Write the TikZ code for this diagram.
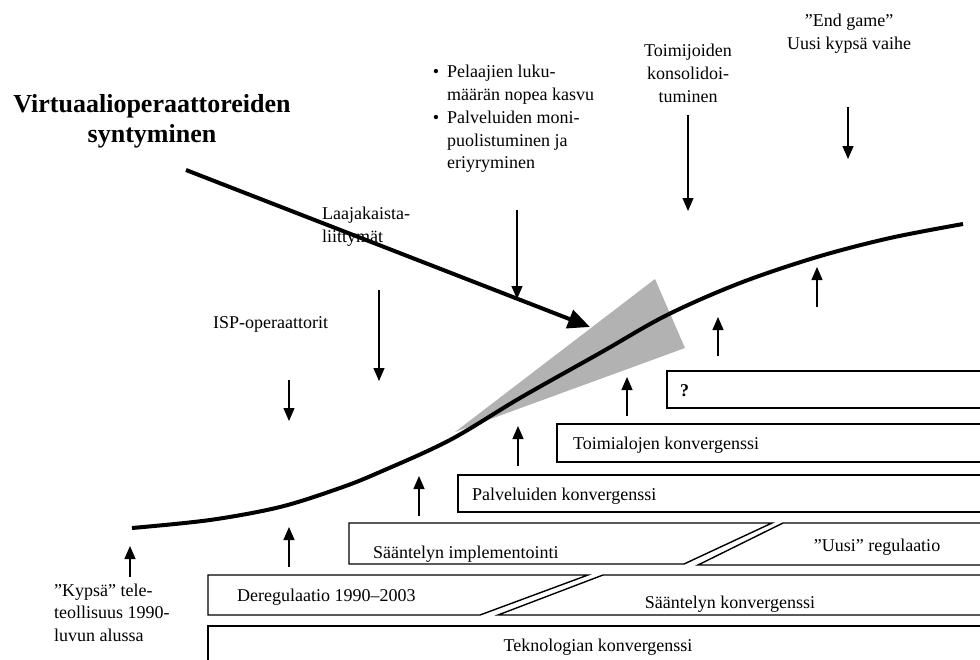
\documentclass[tikz,border=0pt]{standalone}
\usepackage{fontspec}
\setmainfont{Liberation Serif}
\usetikzlibrary{arrows.meta}
\begin{document}
\begin{tikzpicture}[x=1pt,y=-1pt,
  txt/.style={inner sep=0pt, font=\fontsize{18}{22.5}\selectfont},
  ttl/.style={inner sep=0pt, font=\fontsize{26}{31}\selectfont\bfseries},
  thin/.style={line width=1.3pt, -{Triangle[width=11pt,length=13pt]}},
  thick/.style={line width=4pt, -{Triangle[width=19pt,length=22pt]}},
  boxline/.style={line width=1.4pt},
  curve/.style={line width=4pt}]
\useasboundingbox (0,0) rectangle (980,659);
\clip (0,0) rectangle (980,659);

% wedge
\fill[black!30] (455,432) -- (655,279) -- (685,348) -- cycle;
% S-curve
\draw[curve] plot[smooth, tension=0.55] coordinates {(132,528) (210,520) (280,507) (340,488) (380,472) (450,440) (520,398) (600,353) (667,315) (740,283) (817,257) (890,238) (963,224)};

% boxes
\draw[boxline] (1000,626) -- (208,626) -- (208,680);
\draw[boxline] (208,575) -- (588,575) -- (480,615) -- (208,615) -- cycle;
\draw[boxline] (1000,575) -- (603,575) -- (498,615) -- (1000,615);
\draw[boxline] (349,523) -- (772,523) -- (684,564) -- (349,564) -- cycle;
\draw[boxline] (1000,523) -- (783,523) -- (698,565) -- (1000,565);
\draw[boxline] (1000,475) -- (458,475) -- (458,512) -- (1000,512);
\draw[boxline] (1000,424) -- (557,424) -- (557,462) -- (1000,462);
\draw[boxline] (1000,371) -- (667,371) -- (667,408) -- (1000,408);

% box texts
\node[txt, anchor=base] (tek) at (598,651) {Teknologian konvergenssi};
\node[txt, anchor=base west] (dereg) at (237,601) {Deregulaatio 1990–2003};
\node[txt, anchor=base] (skonv) at (730,608) {Sääntelyn konvergenssi};
\node[txt, anchor=base west] (simpl) at (373,558) {Sääntelyn implementointi};
\node[txt, anchor=base] (uusi) at (877,551) {"Uusi” regulaatio};
\node[txt, anchor=base west] (palv) at (472,500) {Palveluiden konvergenssi};
\node[txt, anchor=base west] (toim) at (573,449) {Toimialojen konvergenssi};
\node[txt, anchor=base west, font=\fontsize{18}{22.5}\selectfont\bfseries] (q) at (680,396) {?};

% title
\node[ttl, anchor=base] (t1) at (152,112) {Virtuaalioperaattoreiden};
\node[ttl, anchor=base] (t2) at (152,142) {syntyminen};

% labels
\node[txt, anchor=base west] (laa1) at (322,219) {Laajakaista-};
\node[txt, anchor=base west] (laa2) at (322,242) {liittymät};
\node[txt, anchor=base west] (isp) at (213,328) {ISP-operaattorit};
\node[txt, anchor=base west] (k1) at (54,596) {"Kypsä” tele-};
\node[txt, anchor=base west] (k2) at (54,618) {teollisuus 1990-};
\node[txt, anchor=base west] (k3) at (54,641) {luvun alussa};

\node[txt, anchor=base west] (b1) at (447,77) {Pelaajien luku-};
\node[txt, anchor=base west] (b2) at (447,100) {määrän nopea kasvu};
\node[txt, anchor=base west] (b3) at (447,123) {Palveluiden moni-};
\node[txt, anchor=base west] (b4) at (447,146) {puolistuminen ja};
\node[txt, anchor=base west] (b5) at (447,168) {eriyryminen};
\node[txt, anchor=base] (bul1) at (436,77) {•};
\node[txt, anchor=base] (bul2) at (436,123) {•};

\node[txt, anchor=base] (tc1) at (688,56) {Toimijoiden};
\node[txt, anchor=base] (tc2) at (688,79) {konsolidoi-};
\node[txt, anchor=base] (tc3) at (688,102) {tuminen};

\node[txt, anchor=base] (e1) at (849,26) {"End game”};
\node[txt, anchor=base] (e2) at (849,49) {Uusi kypsä vaihe};

% thick arrow
\coordinate (va) at (186,170);
\coordinate (vb) at (590,327);
\draw[thick] (va) -- (vb);

% down arrows
\coordinate (d1a) at (289,380); \coordinate (d1b) at (289,421);
\coordinate (d2a) at (379,290); \coordinate (d2b) at (379,381);
\coordinate (d3a) at (517,210); \coordinate (d3b) at (517,299);
\coordinate (d4a) at (688,115); \coordinate (d4b) at (688,211);
\coordinate (d5a) at (848,107); \coordinate (d5b) at (848,159);
\foreach \i in {1,...,5} {\draw[thin] (d\i a) -- (d\i b);}

% up arrows
\coordinate (u1a) at (130,577); \coordinate (u1b) at (130,546);
\coordinate (u2a) at (289,567); \coordinate (u2b) at (289,527);
\coordinate (u3a) at (419,516); \coordinate (u3b) at (419,476);
\coordinate (u4a) at (518,466); \coordinate (u4b) at (518,426);
\coordinate (u5a) at (627,416); \coordinate (u5b) at (627,377);
\coordinate (u6a) at (718,356); \coordinate (u6b) at (718,317);
\coordinate (u7a) at (817,307); \coordinate (u7b) at (817,267);
\foreach \i in {1,...,7} {\draw[thin] (u\i a) -- (u\i b);}
\end{tikzpicture}
\end{document}
